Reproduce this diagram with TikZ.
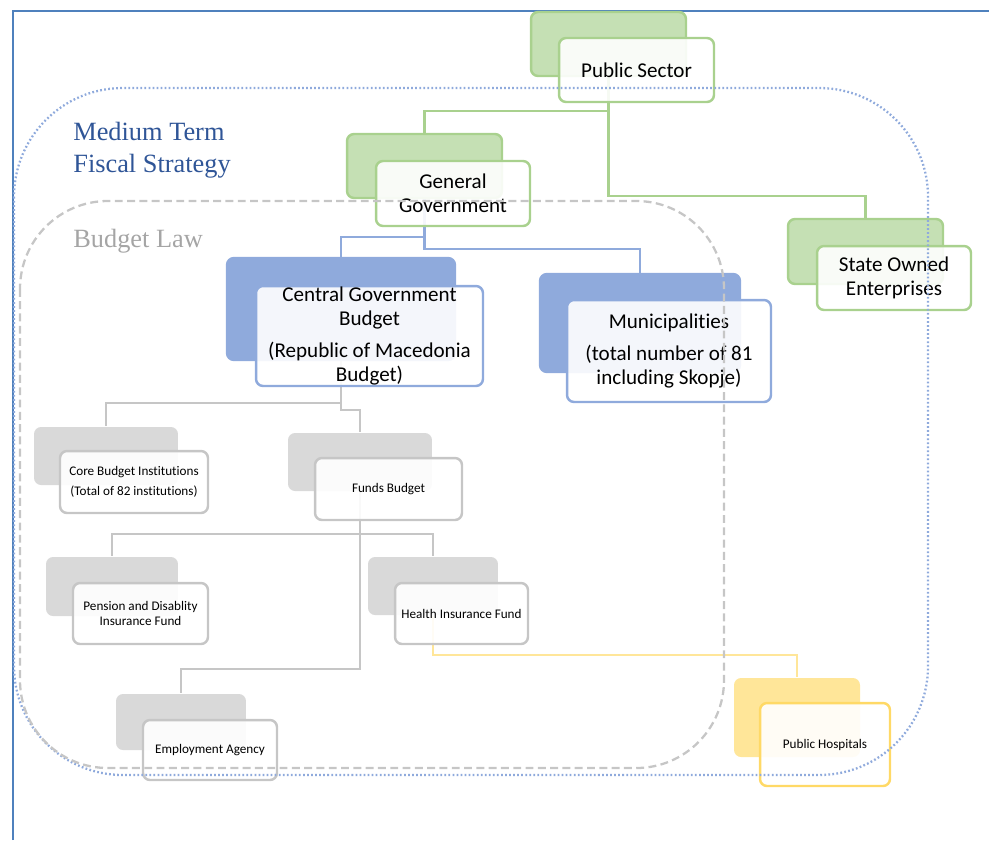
\documentclass[tikz,border=0pt]{standalone}
\usepackage{fontspec}
\setmainfont{Carlito}[Ligatures=NoCommon]
\newfontfamily\titlefont{Liberation Serif}
\usepackage{tikz}
\usetikzlibrary{backgrounds}
\definecolor{greenfill}{HTML}{C5E0B4}
\definecolor{greenline}{HTML}{A9D18E}
\definecolor{bluefill}{HTML}{8FAADC}
\definecolor{grayfill}{HTML}{D9D9D9}
\definecolor{grayline}{HTML}{C6C6C6}
\definecolor{yellowfill}{HTML}{FFE699}
\definecolor{yellowline}{HTML}{FFD966}
\definecolor{framecol}{HTML}{4F81BD}
\definecolor{titleblue}{HTML}{2F5597}
\definecolor{titlegray}{HTML}{A5A5A5}

\begin{document}
\begin{tikzpicture}[x=0.02cm, y=-0.02cm,
    backbox/.style={rounded corners=4pt, line width=1.4pt, inner sep=0pt},
    frontbox/.style={rounded corners=4pt, line width=1.4pt, fill=white,
      fill opacity=0.9, text opacity=1, align=center, inner sep=0pt},
    bigtext/.style={font=\fontsize{12}{13.6}\selectfont},
    smalltext/.style={font=\fontsize{7.5}{8.2}\selectfont},
    link/.style={line width=1.4pt}]
  \useasboundingbox (0,0) rectangle (989,840);

  % public sector
  \node[backbox, fill=greenfill, draw=greenline, minimum width=3.1cm, minimum height=1.28cm](psb) at (608.5,44){};
  \node[frontbox, draw=greenline, bigtext, minimum width=3.1cm, minimum height=1.28cm](ps) at (636.5,70){Public Sector};
  % general government
  \node[backbox, fill=greenfill, draw=greenline, minimum width=3.1cm, minimum height=1.28cm](ggb) at (424.5,166){};
  \node[frontbox, draw=greenline, bigtext, minimum width=3.08cm, minimum height=1.3cm](gg) at (453,193.5){General\\Government};
  % state owned enterprises
  \node[backbox, fill=greenfill, draw=greenline, minimum width=3.1cm, minimum height=1.3cm](soeb) at (865.5,251.5){};
  \node[frontbox, draw=greenline, bigtext, minimum width=3.08cm, minimum height=1.28cm](soe) at (894,278){State Owned\\Enterprises};

  % central government budget
  \node[backbox, fill=bluefill, draw=bluefill, minimum width=4.56cm, minimum height=2.04cm](cgbb) at (341,309){};
  \node[frontbox, draw=bluefill, bigtext, minimum width=4.54cm, minimum height=2.0cm](cgb) at (369.5,336){Central Government\\Budget\\[5pt](Republic of Macedonia\\Budget)};
  % municipalities
  \node[backbox, fill=bluefill, draw=bluefill, minimum width=4.0cm, minimum height=1.96cm](munib) at (640,323){};
  \node[frontbox, draw=bluefill, bigtext, minimum width=4.08cm, minimum height=2.04cm](muni) at (669,351){Municipalities\\[5pt](total number of 81\\including Skopje)};

  % core budget
  \node[backbox, fill=grayfill, minimum width=2.88cm, minimum height=1.16cm](coreb) at (106,456){};
  \node[frontbox, draw=grayline, font=\fontsize{7.5}{11.3}\selectfont, minimum width=2.96cm, minimum height=1.24cm](core) at (134,482){Core Budget Institutions\\(Total of 82 institutions)};
  % funds budget
  \node[backbox, fill=grayfill, minimum width=2.88cm, minimum height=1.16cm](fundsb) at (360,462){};
  \node[frontbox, draw=grayline, smalltext, minimum width=2.94cm, minimum height=1.24cm](funds) at (388.5,489){Funds Budget};
  % pension fund
  \node[backbox, fill=grayfill, minimum width=2.64cm, minimum height=1.18cm](pensionb) at (112,586.5){};
  \node[frontbox, draw=grayline, smalltext, minimum width=2.7cm, minimum height=1.22cm](pension) at (140.5,613.5){Pension and Disablity\\Insurance Fund};
  % health fund
  \node[backbox, fill=grayfill, minimum width=2.6cm, minimum height=1.16cm](healthb) at (433,586){};
  \node[frontbox, draw=grayline, smalltext, minimum width=2.66cm, minimum height=1.22cm](health) at (461.5,613.5){Health Insurance Fund};
  % employment agency
  \node[backbox, fill=grayfill, minimum width=2.6cm, minimum height=1.12cm](empb) at (181,722){};
  \node[frontbox, draw=grayline, smalltext, minimum width=2.68cm, minimum height=1.2cm](emp) at (210,750){Employment Agency};
  % public hospitals
  \node[backbox, fill=yellowfill, minimum width=2.52cm, minimum height=1.58cm](hospb) at (797,717.5){};
  \node[frontbox, draw=yellowline, smalltext, minimum width=2.6cm, minimum height=1.66cm](hosp) at (825,744.5){Public Hospitals};

  \begin{scope}[on background layer]
    % frame
    \draw[framecol, line width=0.8pt] (13,840) -- (13,11) -- (989,11);
    % green links
    \draw[link, greenline] (psb.south) -- ++(0,34) -| (ggb.north);
    \draw[link, greenline] (psb.south) -- ++(0,119) -| (soeb.north);
    % blue links
    \draw[link, bluefill] (ggb.south) -- ++(0,38) -| (cgbb.north);
    \draw[link, bluefill] (ggb.south) -- ++(0,50) -| (munib.north);
    % gray links
    \draw[link, grayline] (cgbb.south) -- ++(0,42) -| (coreb.north);
    \draw[link, grayline] (cgbb.south) -- ++(0,49) -| (fundsb.north);
    \draw[link, grayline] (fundsb.south) -- ++(0,42) -| (pensionb.north);
    \draw[link, grayline] (fundsb.south) -- ++(0,42) -| (healthb.north);
    \draw[link, grayline] (fundsb.south) -- ++(0,177) -| (empb.north);
    % yellow link
    \draw[link, yellowfill] (healthb.south) -- ++(0,39) -| (hospb.north);
  \end{scope}

  % the two frames
  \draw[bluefill, line width=1.3pt, dash pattern=on 1pt off 1.3pt, rounded corners=62pt]
    (14,88) rectangle (928,775);
  \draw[grayline, line width=1.3pt, dash pattern=on 4.5pt off 2.5pt, rounded corners=50pt]
    (20,201) rectangle (724,768);
  \node[anchor=north west, inner sep=0pt, align=left, titleblue,
    font=\titlefont\fontsize{15}{18}\selectfont](mtfs) at (73,122){Medium Term\\Fiscal Strategy};
  \node[anchor=base west, inner sep=0pt, titlegray,
    font=\titlefont\fontsize{15}{18}\selectfont](bl) at (73,247){Budget Law};
\end{tikzpicture}
\end{document}
